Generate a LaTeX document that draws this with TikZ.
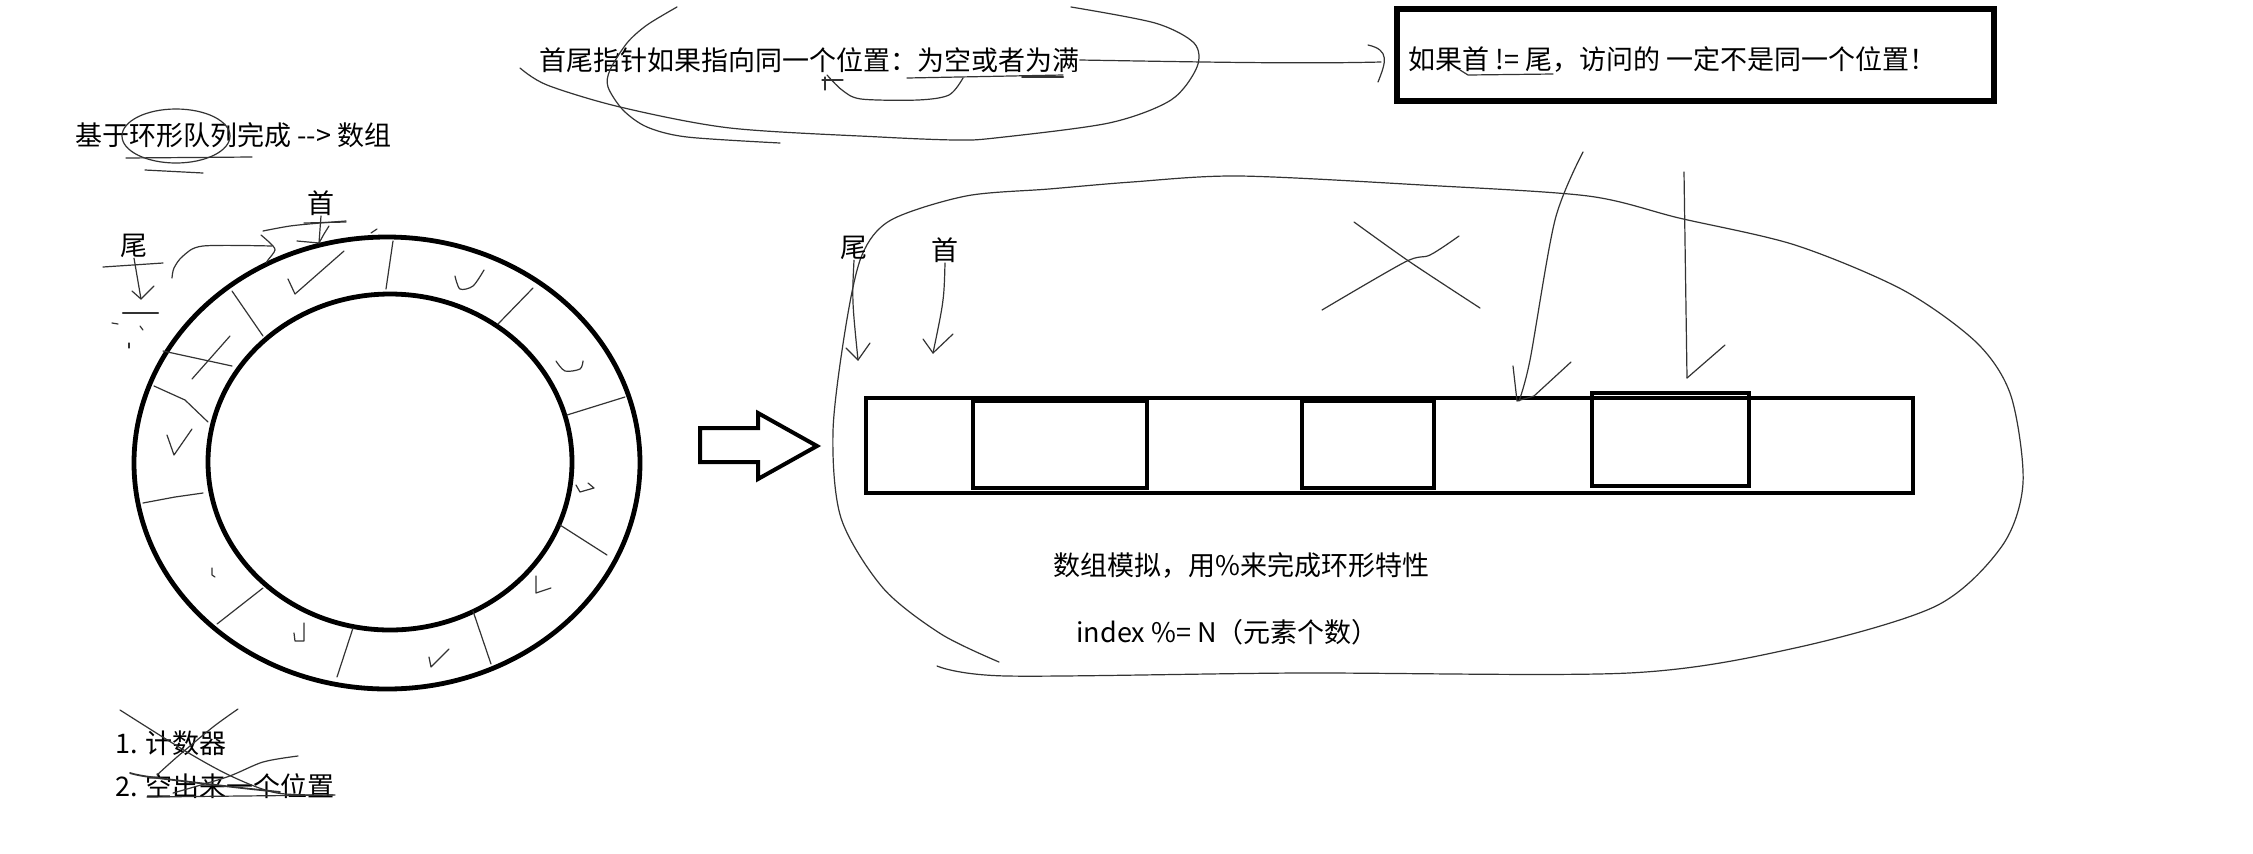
\documentclass[tikz,border=0pt]{standalone}
\usepackage{fontspec}
\newfontfamily\cjk{Noto Sans CJK SC}
\begin{document}
\begin{tikzpicture}[x=0.5pt,y=-0.5pt,
  hand/.style={line width=0.6pt, draw=black!80, line cap=round, line join=round},
  txt/.style={font=\cjk\fontsize{13.5}{16}\selectfont, inner sep=0pt, anchor=west},
  ringline/.style={line width=2.4pt},
  cellbox/.style={line width=2.2pt},
  boxstyle/.style={draw, line width=3pt, inner sep=0pt, minimum width=298.5pt, minimum height=46pt}]
\useasboundingbox (0,0) rectangle (2253,853);
\fill[white] (0,0) rectangle (2253,853);

% ---------- top ----------
\node[txt] (t1) at (539,60) {首尾指针如果指向同一个位置：为空或者为满};
\node[boxstyle] (box) at (1695.5,55) {};
\node[txt] (boxtxt) at (1408,60) {如果首 != 尾，访问的 一定不是同一个位置！};
\coordinate (ahtip) at (1381,62);
\draw[hand] (t1.east) .. controls (1200,62) and (1300,64) .. (ahtip);
\draw[hand] (1368,45) .. controls (1390,50) and (1386,62) .. (1378,82);
\draw[hand] (1460,70) -- (1468,75) -- (1553,74);
% loops around t1
\draw[hand] plot[smooth] coordinates {(520,68) (547,85) (620,107) (730,128) (880,137) (956,140) (995,138) (1109,123) (1171,100) (1197,67) (1194,43) (1155,23) (1071,7)};
\draw[hand] plot[smooth] coordinates {(677,7) (647,25) (627,43) (610,70) (608,87) (623,110) (647,127) (687,137) (780,143)};
\draw[hand] (907,78) -- (1063,75);
\draw[hand, line width=1pt] (1022,77) -- (1063,77);
\draw[hand] (822,80) -- (843,80);
\draw[hand] (825,77) -- (825,90);
\draw[hand] plot[smooth] coordinates {(827,75) (842,90) (861,99) (918,100) (949,95) (963,78)};

% ---------- left title ----------
\node[txt] (t2) at (75,135) {基于环形队列完成 -{}-> 数组};
\draw[hand] (176,136) ellipse [x radius=27pt, y radius=13.5pt];
\draw[hand] (126,158) -- (252,157);
\draw[hand] (145,170) -- (203,173);

% ---------- ring ----------
\coordinate (ringc) at (387,463);
\draw[ringline] (ringc) ellipse [x radius=126.5pt, y radius=113pt];
\draw[ringline] (390,462) ellipse [x radius=91pt, y radius=84pt];
% dividers
\draw[hand] (393,241) -- (386,289);
\draw[hand] (533,288) -- (498,324);
\draw[hand] (625,397) -- (567,415);
\draw[hand] (560,525) -- (607,555);
\draw[hand] (473,611) -- (491,664);
\draw[hand] (353,628) -- (337,677);
\draw[hand] (263,588) -- (217,624);
\draw[hand] (203,493) -- (175,497) -- (143,503);
\draw[hand] (208,422) -- (185,400) -- (154,386);
\draw[hand] (232,366) -- (163,351);
\draw[hand] (263,336) -- (232,291);
% ticks
\draw[hand] (288,279) -- (295,294) -- (344,251);
\draw[hand] plot[smooth] coordinates {(484,270) (473,286) (460,289) (455,276)};
\draw[hand] plot[smooth] coordinates {(556,361) (565,371) (580,369) (583,361)};
\draw[hand] (576,485) -- (580,492) -- (594,488) -- (588,483);
\draw[hand] (536,576) -- (536,593) -- (551,588);
\draw[hand] (429,657) -- (431,667) -- (449,649);
\draw[hand] (304,623) -- (304,641) -- (295,641) -- (294,633);
\draw[hand] (212,568) -- (212,575) -- (215,577);
\draw[hand] (167,435) -- (174,455) -- (192,429);
\draw[hand] (192,379) -- (230,336);
% head / tail markers
\node[txt, anchor=center] (rh) at (321,203) {首};
\node[txt, anchor=center] (rt) at (134,246) {尾};
\coordinate (rhend) at (319,243);
\coordinate (rtend) at (141,299);
\draw[hand] (304,223) -- (346,222);
\draw[hand] (rh.south) -- (rhend);
\draw[hand] (329,226) -- (324,234) -- (rhend);
\draw[hand] (297,241) -- (rhend);
\draw[hand] (103,267) -- (163,263);
\draw[hand] (rt.south) -- (rtend);
\draw[hand] (132,291) -- (rtend) -- (154,286);
\draw[hand, line width=1.2pt] (123,313) -- (158,313);
\draw[hand] (112,323) -- (118,324);
\draw[hand] (140,326) -- (143,330);
\draw[hand] (129,343) -- (129,348);
\draw[hand] plot[smooth] coordinates {(263,231) (290,226) (320,223) (346,221)};
\draw[hand] plot[smooth] coordinates {(261,235) (270,243) (275,250) (268,260) (266,263)};
\draw[hand] plot[smooth] coordinates {(272,246) (203,246) (183,256) (174,268) (172,278)};
\draw[hand] (371,233) -- (377,229);

% ---------- bottom list ----------
\node[txt] (b1) at (115,743) {1. 计数器};
\node[txt] (b2) at (115,786) {2. 空出来一个位置};
\draw[hand] plot[smooth] coordinates {(120,710) (187,752) (233,777) (277,793) (333,795)};
\draw[hand] plot[smooth] coordinates {(238,709) (213,727) (177,757) (157,775)};
\draw[hand] plot[smooth] coordinates {(298,756) (263,762) (227,777) (173,793)};
\draw[hand, line width=0.9pt] plot[smooth] coordinates {(130,773) (150,777) (233,787) (280,792)};
\draw[hand] (147,797) -- (335,795);

% ---------- block arrow ----------
\draw[line width=2pt, line join=miter] (700,428) -- (758,428) -- (758,413) -- (817,446) -- (758,479) -- (758,462) -- (700,462) -- cycle;

% ---------- array ----------
\node[draw, cellbox, inner sep=0pt, minimum width=523.5pt, minimum height=47.5pt] (arr) at (1389.5,445.5) {};
\draw[cellbox] (973,401) rectangle (1147,488);
\draw[cellbox] (1302,401) rectangle (1434,488);
\draw[cellbox] (1592,393) rectangle (1749,486);
\node[txt] (t3) at (1053,565) {数组模拟，用\%来完成环形特性};
\node[txt] (t4) at (1076,632) {index \%= N（元素个数）};

% big loop
\draw[hand] plot[smooth] coordinates {(999,662) (941,634) (883,588) (841,518) (833,431) (846,325) (862,255) (891,220) (966,196) (1049,189) (1132,182) (1239,176) (1422,185) (1588,196) (1679,218) (1795,245) (1903,290) (1977,343) (2011,396) (2023,483) (2002,546) (1936,606) (1795,648) (1629,673) (1298,673) (1007,676) (937,666)};

% array head / tail
\node[txt, anchor=center] (ah) at (945,250) {首};
\node[txt, anchor=center] (at) at (854,248) {尾};
\coordinate (atend) at (858,360);
\coordinate (ahend) at (933,353);
\draw[hand] (at.south) .. controls (852,300) .. (atend);
\draw[hand] (846,348) -- (atend) -- (870,343);
\draw[hand] (ah.south) .. controls (944,300) .. (ahend);
\draw[hand] (923,339) -- (ahend) -- (953,334);

% X mark
\draw[hand] plot[smooth] coordinates {(1354,222) (1410,262) (1480,308)};
\draw[hand] plot[smooth] coordinates {(1459,236) (1430,255) (1405,262) (1322,310)};

% long arrows
\coordinate (la1) at (1519,401);
\draw[hand] plot[smooth] coordinates {(1583,152) (1555,220) (1530,360) (la1)};
\draw[hand] (1513,366) -- (1517,401) -- (1534,396) -- (1571,362);
\coordinate (la2) at (1687,378);
\draw[hand] (1684,172) -- (la2);
\draw[hand] (1725,345) -- (la2);
\end{tikzpicture}
\end{document}
